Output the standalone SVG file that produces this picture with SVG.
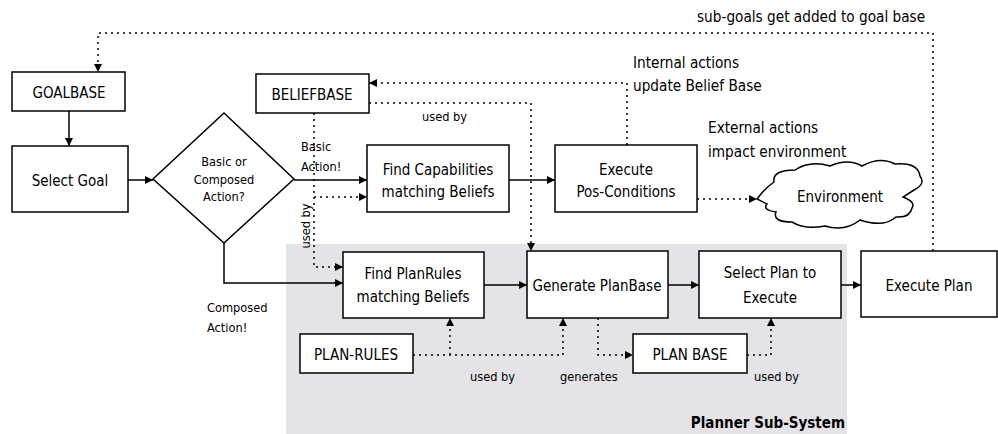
<svg xmlns="http://www.w3.org/2000/svg" width="998" height="434" viewBox="0 0 998 434">
<defs>
<style>
.bx{fill:#fff;stroke:#000;stroke-width:1.5}
.t{font-family:"DejaVu Sans Condensed","DejaVu Sans",sans-serif;font-size:15px;fill:#000}
.c{text-anchor:middle}
.s{font-size:12.7px}
.a{font-size:15.2px}
.sol{fill:none;stroke:#000;stroke-width:1.5}
.dot{fill:none;stroke:#000;stroke-width:1.5;stroke-dasharray:2 4}
</style>
<marker id="ah" viewBox="0 0 10 10" refX="10" refY="5" markerWidth="9" markerHeight="8" markerUnits="userSpaceOnUse" orient="auto"><path d="M0,0 L10,5 L0,10 z" fill="#000"/></marker>
</defs>
<rect width="998" height="434" fill="#fff"/>
<g id="planner-subsystem">
<rect x="286" y="244" width="561" height="192" fill="#e5e3e7"/>
<text class="t" x="845" y="428" text-anchor="end" font-weight="bold" font-size="18.5">Planner Sub-System</text>
</g>
<g id="connectors">
<path class="sol" d="M69,111 V146" marker-end="url(#ah)"/>
<path class="sol" d="M128,180 H153" marker-end="url(#ah)"/>
<path class="sol" d="M294,180 H367" marker-end="url(#ah)"/>
<path class="sol" d="M224,243 V283 H343" marker-end="url(#ah)"/>
<path class="sol" d="M509,180 H555" marker-end="url(#ah)"/>
<path class="sol" d="M484,285 H527" marker-end="url(#ah)"/>
<path class="sol" d="M668,285 H699" marker-end="url(#ah)"/>
<path class="sol" d="M841,285 H861" marker-end="url(#ah)"/>
<path class="dot" d="M933,251 V33 H98 V72" marker-end="url(#ah)"/>
<path class="dot" d="M314,113 V267 H343" marker-end="url(#ah)"/>
<path class="dot" d="M314,197 H367" marker-end="url(#ah)"/>
<path class="dot" d="M369,103 H531 V251" marker-end="url(#ah)"/>
<path class="dot" d="M627,145 V83 H369" marker-end="url(#ah)"/>
<path class="dot" d="M697,199 H757" marker-end="url(#ah)"/>
<path class="dot" d="M413,355 H563 V318" marker-end="url(#ah)"/>
<path class="dot" d="M450,355 V318" marker-end="url(#ah)"/>
<path class="dot" d="M598,318 V355 H633" marker-end="url(#ah)"/>
<path class="dot" d="M747,355 H771 V318" marker-end="url(#ah)"/>
</g>
<g id="labels">
<text class="t a" x="697" y="22">sub-goals get added to goal base</text>
<text class="t a" x="633" y="68">Internal actions</text>
<text class="t a" x="633" y="91">update Belief Base</text>
<text class="t a" x="708" y="133">External actions</text>
<text class="t a" x="708" y="157">impact environment</text>
<text class="t s" x="422" y="121">used by</text>
<text class="t s" x="301" y="151">Basic</text>
<text class="t s" x="301" y="171">Action!</text>
<text class="t s c" transform="translate(310,226) rotate(-90)">used by</text>
<text class="t s" x="207" y="312">Composed</text>
<text class="t s" x="207" y="332">Action!</text>
<text class="t s" x="470" y="381">used by</text>
<text class="t s" x="560" y="381">generates</text>
<text class="t s" x="754" y="381">used by</text>
</g>
<g id="goalbase"><rect class="bx" x="12" y="72" width="113" height="39"/><text class="t c" x="69" y="98">GOALBASE</text></g>
<g id="select-goal"><rect class="bx" x="12" y="146" width="116" height="66"/><text class="t c" x="70" y="186">Select Goal</text></g>
<g id="decision"><path class="bx" d="M224,113 L294,179 L224,243 L153,179 Z"/>
<text class="t c s" x="224" y="166">Basic or</text><text class="t c s" x="224" y="184">Composed</text><text class="t c s" x="224" y="201">Action?</text></g>
<g id="beliefbase"><rect class="bx" x="256" y="74" width="113" height="39"/><text class="t c" x="312" y="100">BELIEFBASE</text></g>
<g id="find-capabilities"><rect class="bx" x="367" y="145" width="142" height="67"/><text class="t c" x="438" y="175">Find Capabilities</text><text class="t c" x="438" y="197">matching Beliefs</text></g>
<g id="execute-pos"><rect class="bx" x="555" y="145" width="142" height="67"/><text class="t c" x="626" y="175">Execute</text><text class="t c" x="626" y="197">Pos-Conditions</text></g>
<g id="environment"><path class="bx" d="M757,199 Q765,188 774,182 Q772,170 795,170 Q810,160 830,166 Q848,158 862,166 Q880,156 895,164 Q918,162 920,176 Q926,184 914,190 L903,197 Q916,202 912,208 Q910,218 896,217 Q884,228 860,220 Q845,232 825,226 Q805,230 792,222 Q772,222 776,212 Q762,210 767,204 Z"/><text class="t c" x="840" y="202">Environment</text></g>
<g id="find-planrules"><rect class="bx" x="343" y="252" width="141" height="66"/><text class="t c" x="413" y="279">Find PlanRules</text><text class="t c" x="413" y="302">matching Beliefs</text></g>
<g id="generate-planbase"><rect class="bx" x="527" y="251" width="141" height="67"/><text class="t c" x="597" y="291">Generate PlanBase</text></g>
<g id="select-plan"><rect class="bx" x="699" y="251" width="142" height="67"/><text class="t c" x="770" y="278">Select Plan to</text><text class="t c" x="770" y="303">Execute</text></g>
<g id="execute-plan"><rect class="bx" x="861" y="251" width="136" height="66"/><text class="t c" x="929" y="291">Execute Plan</text></g>
<g id="plan-rules"><rect class="bx" x="300" y="334" width="113" height="39"/><text class="t c" x="356" y="360">PLAN-RULES</text></g>
<g id="plan-base"><rect class="bx" x="633" y="334" width="114" height="39"/><text class="t c" x="690" y="360">PLAN BASE</text></g>
</svg>
